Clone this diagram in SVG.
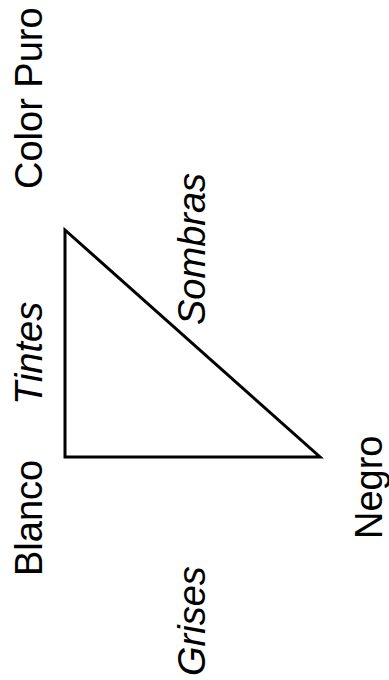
<svg xmlns="http://www.w3.org/2000/svg" width="389" height="680" viewBox="0 0 389 680">
<style>
.lbl{font-family:"Liberation Sans",Arial,sans-serif;font-size:38px;fill:#000}
.it{font-style:italic}
.edge{fill:none;stroke:#000;stroke-width:3;stroke-linejoin:miter}
</style>
<rect width="389" height="680" fill="#fff"/>
<g id="connectors">
<path class="edge" d="M65,230 L65,457 L320,457 Z"/>
</g>
<g id="node-color-puro"><text class="lbl" transform="translate(42,189) rotate(-90)">Color Puro</text></g>
<g id="node-blanco"><text class="lbl" transform="translate(42,576) rotate(-90)">Blanco</text></g>
<g id="node-negro"><text class="lbl" transform="translate(382,539) rotate(-90)">Negro</text></g>
<g id="label-tintes"><text class="lbl it" transform="translate(42,405) rotate(-90)">Tintes</text></g>
<g id="label-sombras"><text class="lbl it" transform="translate(205,325) rotate(-90)">Sombras</text></g>
<g id="label-grises"><text class="lbl it" transform="translate(205,676) rotate(-90)">Grises</text></g>
</svg>
